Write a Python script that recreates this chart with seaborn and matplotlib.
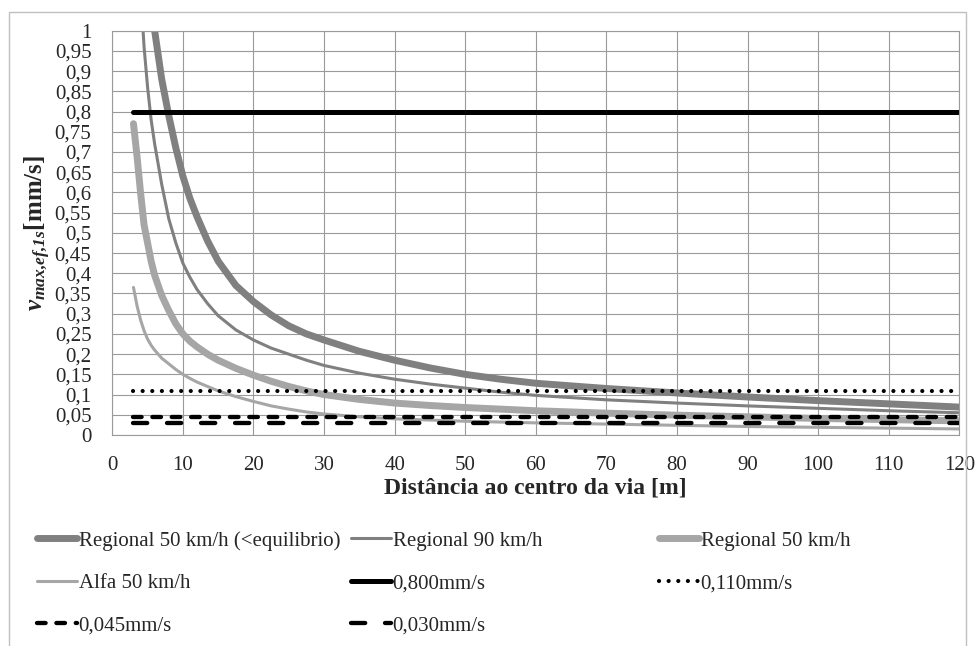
import seaborn as sns
import matplotlib.pyplot as plt
from matplotlib.patches import Rectangle

# distance to track centre [m] and peak velocity curves [mm/s]
dist = [3, 3.5, 4, 4.5, 5, 5.5, 6, 7, 8, 9, 10, 11, 12, 13.5, 15, 17.5, 20, 22.5, 25, 27.5,
        30, 35, 40, 45, 50, 55, 60, 70, 80, 90, 100, 110, 120]
reg50_eq = [1.85, 1.62, 1.43, 1.29, 1.18, 1.08, 1.0, 0.88, 0.79, 0.71, 0.64, 0.585, 0.54, 0.48,
            0.43, 0.37, 0.33, 0.297, 0.27, 0.25, 0.235, 0.207, 0.185, 0.166, 0.15, 0.138, 0.128,
            0.115, 0.104, 0.094, 0.085, 0.077, 0.069]
reg90 = [1.6, 1.3, 1.1, 0.96, 0.86, 0.78, 0.72, 0.62, 0.535, 0.475, 0.425, 0.39, 0.36, 0.325,
         0.295, 0.26, 0.235, 0.215, 0.2, 0.185, 0.172, 0.153, 0.138, 0.126, 0.116, 0.106, 0.098,
         0.087, 0.079, 0.072, 0.066, 0.06, 0.055]
reg50 = [0.77, 0.69, 0.6, 0.52, 0.475, 0.43, 0.395, 0.345, 0.308, 0.275, 0.25, 0.232, 0.218, 0.2,
         0.185, 0.165, 0.148, 0.133, 0.12, 0.109, 0.1, 0.088, 0.079, 0.073, 0.068, 0.064, 0.06,
         0.054, 0.049, 0.045, 0.041, 0.038, 0.035]
alfa50 = [0.365, 0.32, 0.285, 0.258, 0.237, 0.222, 0.21, 0.19, 0.176, 0.162, 0.15, 0.14, 0.131,
          0.12, 0.109, 0.095, 0.083, 0.072, 0.064, 0.057, 0.052, 0.045, 0.04, 0.037, 0.034, 0.032,
          0.03, 0.027, 0.024, 0.021, 0.019, 0.017, 0.015]
curve_labels = ['Regional 50 km/h (<equilibrio)', 'Regional 90 km/h', 'Regional 50 km/h', 'Alfa 50 km/h']

limit_x = [3, 120]
limits = [0.8, 0.11, 0.045, 0.03]
limit_labels = ['0,800mm/s', '0,110mm/s', '0,045mm/s', '0,030mm/s']

x_ticks = [0, 10, 20, 30, 40, 50, 60, 70, 80, 90, 100, 110, 120]
y_ticks = [0, 0.05, 0.1, 0.15, 0.2, 0.25, 0.3, 0.35, 0.4, 0.45, 0.5, 0.55, 0.6, 0.65,
           0.7, 0.75, 0.8, 0.85, 0.9, 0.95, 1.0]
y_tick_labels = ['0', '0,05', '0,1', '0,15', '0,2', '0,25', '0,3', '0,35', '0,4', '0,45', '0,5',
                 '0,55', '0,6', '0,65', '0,7', '0,75', '0,8', '0,85', '0,9', '0,95', '1']

sns.set_style('white')
plt.rcParams['font.family'] = ['Liberation Serif', 'DejaVu Serif']
plt.rcParams['mathtext.fontset'] = 'custom'
plt.rcParams['mathtext.rm'] = 'Liberation Serif'
plt.rcParams['mathtext.it'] = 'Liberation Serif:italic'
plt.rcParams['mathtext.bf'] = 'Liberation Serif:bold'
plt.rcParams['mathtext.bfit'] = 'Liberation Serif:italic:bold'

grid_col = '#9a9a9a'
fig = plt.figure(figsize=(9.76, 6.46), dpi=100)
ax = fig.add_axes([112.3 / 976, 1 - 435 / 646, 847 / 976, 404.3 / 646])

curve_styles = [('#808080', 5.0), ('#808080', 2.2), ('#a6a6a6', 5.0), ('#a6a6a6', 2.2)]
for vals, lab, (col, lw) in zip([reg50_eq, reg90, reg50, alfa50], curve_labels, curve_styles):
    sns.lineplot(x=dist, y=vals, ax=ax, color=col, lw=lw, label=lab,
                 solid_capstyle='round', solid_joinstyle='round')

limit_styles = [dict(lw=3.6, ls='-'),
                dict(lw=3.0, ls=(0, (0.01, 2.3)), dash_capstyle='round'),
                dict(lw=3.1, ls=(0, (2.0, 2.5)), dash_capstyle='round'),
                dict(lw=3.1, ls=(0, (3.3, 4.6)), dash_capstyle='round')]
for val, lab, st in zip(limits, limit_labels, limit_styles):
    sns.lineplot(x=limit_x, y=[val, val], ax=ax, color='black', label=lab, **st)

ax.set_xlim(0, 120)
ax.set_ylim(0, 1)
ax.set_xticks(x_ticks)
ax.set_yticks(y_ticks)
ax.set_yticklabels(y_tick_labels)
ax.grid(True, color=grid_col, lw=0.8)
for s in ax.spines.values():
    s.set_color(grid_col)
    s.set_linewidth(0.8)
ax.tick_params(direction='out', length=6, width=0.8, color=grid_col, labelsize=15, pad=9)

ax.set_xlabel('Distância ao centro da via [m]', fontsize=17, fontweight='bold', labelpad=2)
ax.set_ylabel(r'$\mathbfit{v_{max{,}ef{,}1s}}$[mm/s]', fontsize=18, fontweight='bold', labelpad=1)

handles, labels = ax.get_legend_handles_labels()
ax.get_legend().remove()
cols = [[0, 3, 6], [1, 4, 7], [2, 5]]
col_x = [37, 351, 659]
for idx, xp in zip(cols, col_x):
    fig.legend([handles[i] for i in idx], [labels[i] for i in idx],
               loc='upper left', bbox_to_anchor=(xp / 976, 1 - 531 / 646),
               frameon=False, fontsize=15, handlelength=1.9, handletextpad=0.1,
               labelspacing=1.1, borderpad=0, borderaxespad=0)

fig.patches.append(Rectangle((9 / 976, -0.1), 957 / 976, 1.1 - 12 / 646, transform=fig.transFigure,
                             fill=False, edgecolor='#c0c0c0', lw=1.0))

plt.savefig('out.png', dpi=100)
